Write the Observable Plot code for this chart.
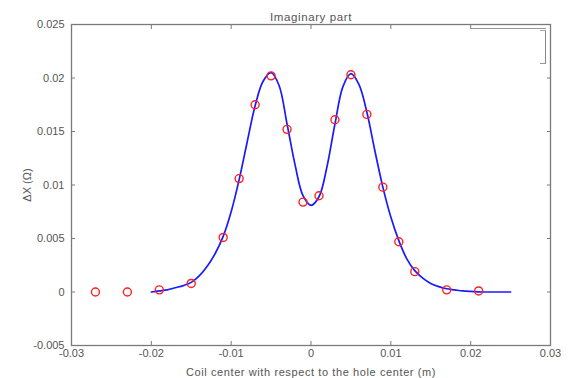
<!DOCTYPE html>
<html>
<head>
<meta charset="utf-8">
<script src="https://cdn.jsdelivr.net/npm/d3@7"></script>
<script src="https://cdn.jsdelivr.net/npm/@observablehq/plot@0.6"></script>
<style>
  html, body { margin: 0; padding: 0; background: #fff; }
  #wrap { position: relative; width: 574px; height: 378px; }
  #legend { position: absolute; left: 470px; top: 28px; width: 76px; height: 33px;
            border-top: 1.2px solid #999; }
  #legend .r { position: absolute; right: 0; top: 1px; width: 5px; height: 32px;
               border-right: 1.5px solid #888; border-bottom: 1.2px solid #999; border-top: 1px solid #aaa; }
  #chart svg g[aria-label="x-axis label"] text, #chart svg g[aria-label="text"] text { letter-spacing: 0.6px; }
</style>
</head>
<body>
<div id="wrap"><div id="chart"></div><div id="legend"><div class="r"></div></div></div>
<script>
// Measured points (red circles)
const measX = [-0.027, -0.023, -0.019, -0.015, -0.011, -0.009, -0.007, -0.005, -0.003, -0.001,
               0.001, 0.003, 0.005, 0.007, 0.009, 0.011, 0.013, 0.017, 0.021];
const measY = [0.0000, 0.0000, 0.0002, 0.0008, 0.0051, 0.0106, 0.0175, 0.0202, 0.0152, 0.0084,
               0.0090, 0.0161, 0.0203, 0.0166, 0.0098, 0.0047, 0.0019, 0.0002, 0.0001];

// Simulated curve (blue line)
const curveX = [-0.020, -0.019, -0.018, -0.017, -0.016, -0.015, -0.014, -0.013, -0.012, -0.011,
                -0.010, -0.009, -0.008, -0.007, -0.006, -0.005, -0.004, -0.003, -0.002, -0.001,
                0.000, 0.001, 0.002, 0.003, 0.004, 0.005, 0.006, 0.007, 0.008, 0.009,
                0.010, 0.011, 0.012, 0.013, 0.014, 0.015, 0.016, 0.017, 0.018, 0.019,
                0.020, 0.021, 0.022, 0.023, 0.024, 0.025];
const curveY = [0.0000, 0.0001, 0.0002, 0.0004, 0.0006, 0.0009, 0.0015, 0.0024, 0.0036, 0.0052,
                0.0075, 0.0105, 0.0140, 0.0174, 0.0197, 0.0205, 0.0193, 0.0157, 0.0119, 0.0090,
                0.0081, 0.0089, 0.0117, 0.0157, 0.0192, 0.0204, 0.0194, 0.0168, 0.0132, 0.0098,
                0.0070, 0.0048, 0.0031, 0.0020, 0.0013, 0.0008, 0.0005, 0.0003, 0.0002, 0.0001,
                0.00005, 0.00002, 0.0000, 0.0000, 0.0000, 0.0000];

const xTicks = [-0.03, -0.02, -0.01, 0, 0.01, 0.02, 0.03];
const xTickLabels = ["-0.03", "-0.02", "-0.01", "0", "0.01", "0.02", "0.03"];
const yTicks = [-0.005, 0, 0.005, 0.01, 0.015, 0.02, 0.025];
const yTickLabels = ["-0.005", "0", "0.005", "0.01", "0.015", "0.02", "0.025"];

const titleText = "Imaginary part";
const xLabel = "Coil center with respect to the hole center (m)";
const yLabel = "\u0394X (\u03A9)";

const meas = measX.map((x, i) => ({x, y: measY[i]}));
const curve = curveX.map((x, i) => ({x, y: curveY[i]}));

const fmt = (ticks, labels) => d => { const i = ticks.findIndex(t => Math.abs(t - d) < 1e-9); return i >= 0 ? labels[i] : ""; };

const axisColor = "#7a7a7a";
const textColor = "#555";

const chart = Plot.plot({
  width: 574,
  height: 378,
  marginLeft: 71,
  marginRight: 24,
  marginTop: 24,
  marginBottom: 33,
  style: { fontFamily: "'Liberation Sans', Arial, sans-serif", fontSize: "11px", color: textColor, background: "#fff" },
  x: { domain: [-0.03, 0.03] },
  y: { domain: [-0.005, 0.025] },
  marks: [
    Plot.frame({ stroke: axisColor, strokeWidth: 1.3 }),
    Plot.axisX({ anchor: "bottom", ticks: xTicks, tickFormat: fmt(xTicks, xTickLabels), tickSize: -4, tickPadding: 8,
                 stroke: axisColor, fill: textColor, label: xLabel, labelAnchor: "center", labelArrow: "none", labelOffset: 30 }),
    Plot.axisX({ anchor: "top", ticks: xTicks, tickFormat: () => "", tickSize: -4, stroke: axisColor, label: null }),
    Plot.axisY({ anchor: "left", ticks: yTicks, tickFormat: fmt(yTicks, yTickLabels), tickSize: -4, tickPadding: 11,
                 stroke: axisColor, fill: textColor, label: yLabel, labelAnchor: "center", labelArrow: "none", labelOffset: 48 }),
    Plot.axisY({ anchor: "right", ticks: yTicks, tickFormat: () => "", tickSize: -4, stroke: axisColor, label: null }),
    Plot.line(curve, { x: "x", y: "y", stroke: "#1a1aff", strokeWidth: 1.7, curve: "catmull-rom" }),
    Plot.dot(meas, { x: "x", y: "y", r: 4, stroke: "#ff2020", strokeWidth: 1.4, fill: "none" }),
    Plot.text([titleText], { frameAnchor: "top", dy: -12, fill: textColor, fontSize: 11.5 })
  ]
});
document.getElementById("chart").appendChild(chart);
</script>
</body>
</html>
